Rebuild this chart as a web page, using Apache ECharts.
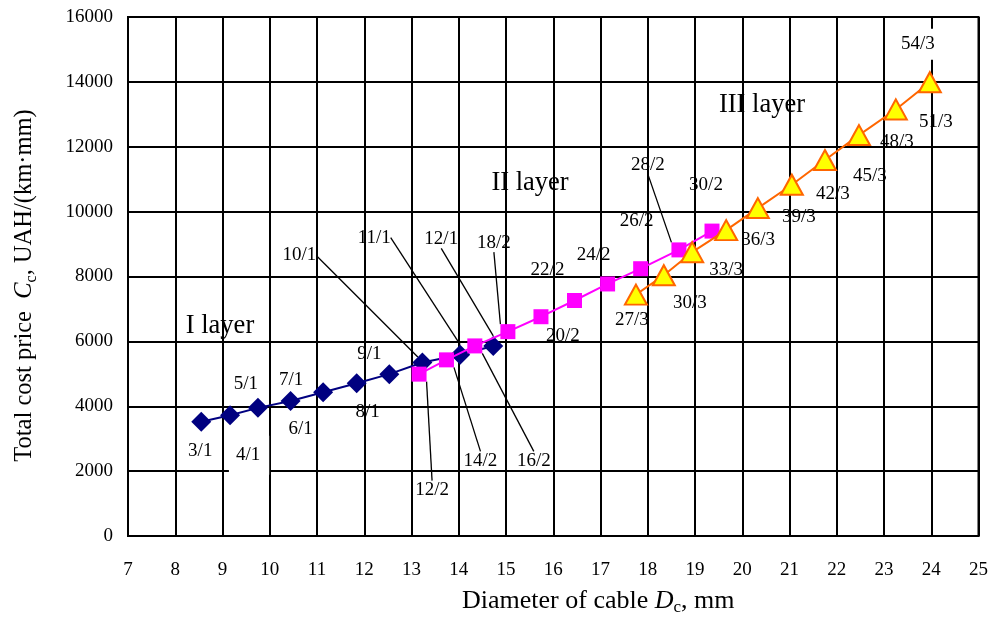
<!DOCTYPE html>
<html><head><meta charset="utf-8">
<script src="https://cdn.jsdelivr.net/npm/echarts@6/dist/echarts.min.js"></script>
<style>html,body{margin:0;padding:0;background:#fff}#c{width:991px;height:621px}</style>
</head><body><div id="c"></div>
<script>
// ---- data ----
const layer1D = [8.55, 9.16, 9.75, 10.44, 11.13, 11.84, 12.53, 13.23, 14.03, 14.73];
const layer1C = [3520, 3720, 3950, 4160, 4430, 4710, 4990, 5350, 5590, 5860];
const layer1Names = ['3/1','4/1','5/1','6/1','7/1','8/1','9/1','10/1','11/1','12/1'];

const layer2D = [13.16, 13.74, 14.34, 15.04, 15.74, 16.45, 17.15, 17.85, 18.66, 19.36];
const layer2C = [4990, 5430, 5860, 6300, 6760, 7260, 7770, 8240, 8820, 9400];
const layer2Names = ['12/2','14/2','16/2','18/2','20/2','22/2','24/2','26/2','28/2','30/2'];

const layer3D = [17.75, 18.34, 18.94, 19.66, 20.33, 21.05, 21.75, 22.47, 23.25, 23.97];
const layer3C = [7440, 8040, 8750, 9430, 10110, 10830, 11590, 12360, 13150, 13990];
const layer3Names = ['27/3','30/3','33/3','36/3','39/3','42/3','45/3','48/3','51/3','54/3'];

const layerTitles = ['I layer', 'II layer', 'III layer'];
const xTicks = {min: 7, max: 25, step: 1};
const yTicks = {min: 0, max: 16000, step: 2000};

// ---- label placement (styling, pixel offsets from the point) ----
const off1 = [[-1,29],[19,40],[-12,-24],[10,28],[-32,-12],[11,29],[-20,-20],[-123,-107],[-86,-117],[-52,-107]];
const lead1 = [false,false,false,false,false,false,false,true,true,true];
const off2 = [[13,116],[34,101],[59,115],[-14,-89],[22,19],[-27,-30],[-14,-29],[-4,-48],[-31,-85],[-6,-46]];
const lead2 = [true,true,true,true,false,false,false,false,true,false];
const off3 = [[-4,25],[26,28],[34,18],[32,10],[41,9],[41,9],[45,16],[38,7],[40,13],[-12,-38]];
const lead3 = [false,false,false,false,false,false,false,false,false,false];
const whiteBg = {'4/1': [0,9,20,7], '54/3': [6,6,6,6]};
const titlePos = [[220,326],[530,183],[762,105]];

const FONT = '"Liberation Serif","Times New Roman",serif';

function buildData(xs, ys, names, leads) {
  return xs.map((x, i) => {
    const item = {value: [x, ys[i]], name: names[i], labelLine: {show: leads[i]}};
    if (whiteBg[names[i]]) {
      item.label = {backgroundColor: '#fff', padding: whiteBg[names[i]]};
    }
    return item;
  });
}
function labelCfg() {
  return {show: true, position: 'inside', formatter: '{b}', color: '#000',
          fontFamily: FONT, fontSize: 19};
}
function layoutFn(offs) {
  return p => ({dx: offs[p.dataIndex][0], dy: offs[p.dataIndex][1]});
}
const lineLab = {show: false, lineStyle: {color: '#000', width: 1.3}, smooth: false, length: 0, length2: 0};
const titleRich = {
  n: {fontFamily: FONT, fontSize: 26, color: '#000', lineHeight: 30},
  i: {fontFamily: FONT, fontSize: 26, fontStyle: 'italic', color: '#000', lineHeight: 30},
  s: {fontFamily: FONT, fontSize: 17, color: '#000', lineHeight: 14, verticalAlign: 'bottom'}
};
const yTitleRich = {
  n: {fontFamily: FONT, fontSize: 24.5, color: '#000', lineHeight: 30},
  i: {fontFamily: FONT, fontSize: 24.5, fontStyle: 'italic', color: '#000', lineHeight: 30},
  s: {fontFamily: FONT, fontSize: 16, color: '#000', lineHeight: 14, verticalAlign: 'bottom'}
};

const chart = echarts.init(document.getElementById('c'));
chart.setOption({
  animation: false,
  backgroundColor: '#fff',
  grid: {left: 128, right: 4, top: 17, bottom: 81, show: true, borderColor: '#000', borderWidth: 2, containLabel: false},
  xAxis: {
    type: 'value', min: xTicks.min, max: xTicks.max, interval: xTicks.step,
    axisLine: {show: true, lineStyle: {color: '#000', width: 2}},
    axisTick: {show: false},
    splitLine: {show: true, lineStyle: {color: '#000', width: 2}},
    axisLabel: {color: '#000', fontFamily: FONT, fontSize: 19, margin: 25, formatter: v => String(v)},
    name: '{n|Diameter of cable }{i|D}{s|c}{n|, mm}',
    nameLocation: 'middle', nameGap: 50,
    nameTextStyle: {padding: [0,0,0,90], rich: titleRich}
  },
  yAxis: {
    type: 'value', min: yTicks.min, max: yTicks.max, interval: yTicks.step,
    axisLine: {show: true, lineStyle: {color: '#000', width: 2}},
    axisTick: {show: false},
    splitLine: {show: true, lineStyle: {color: '#000', width: 2}},
    axisLabel: {color: '#000', fontFamily: FONT, fontSize: 19, margin: 15, formatter: v => String(v)},
    name: '{n|Total cost price  }{i|C}{s|c}{n|, UAH/(km·mm)}',
    nameLocation: 'middle', nameGap: 88,
    nameTextStyle: {padding: [0,18,0,0], rich: yTitleRich}
  },
  series: [
    {
      type: 'line', name: 'I layer', data: buildData(layer1D, layer1C, layer1Names, lead1),
      symbol: 'diamond', symbolSize: 20, z: 3,
      lineStyle: {color: '#000080', width: 2}, itemStyle: {color: '#000080'},
      label: labelCfg(), labelLayout: layoutFn(off1), labelLine: lineLab
    },
    {
      type: 'line', name: 'II layer', data: buildData(layer2D, layer2C, layer2Names, lead2),
      symbol: 'rect', symbolSize: 15, z: 4,
      lineStyle: {color: '#FF00FF', width: 2}, itemStyle: {color: '#FF00FF'},
      label: labelCfg(), labelLayout: layoutFn(off2), labelLine: lineLab
    },
    {
      type: 'line', name: 'III layer', data: buildData(layer3D, layer3C, layer3Names, lead3),
      symbol: 'triangle', symbolSize: [22, 20], z: 5,
      lineStyle: {color: '#FF6600', width: 2}, itemStyle: {color: '#FFFF00', borderColor: '#FF6600', borderWidth: 2},
      label: labelCfg(), labelLayout: layoutFn(off3), labelLine: lineLab
    }
  ],
  graphic: layerTitles.map((t, i) => ({
    type: 'text', x: titlePos[i][0], y: titlePos[i][1], z: 10,
    style: {text: t, fontFamily: FONT, fontSize: 26.5, fill: '#000', textAlign: 'center', textVerticalAlign: 'middle'}
  }))
});
</script></body></html>
